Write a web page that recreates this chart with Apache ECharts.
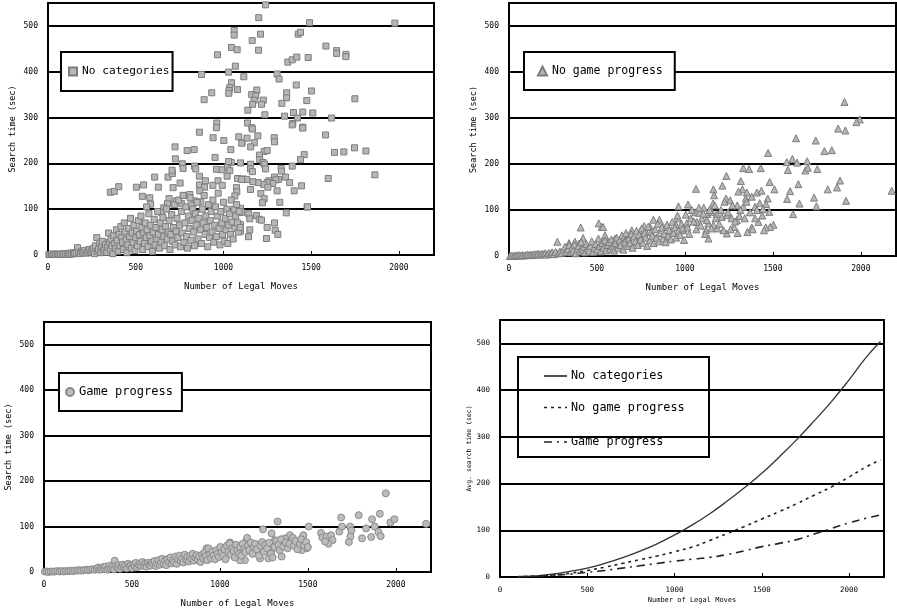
<!DOCTYPE html>
<html><head><meta charset="utf-8">
<script src="https://cdn.jsdelivr.net/npm/echarts@6/dist/echarts.min.js"></script>
<style>html,body{margin:0;padding:0;background:#fff}#c{width:897px;height:614px}</style>
</head><body><div id="c"></div>
<script>
// ---- data ----
const seriesNames = ['No categories', 'No game progress', 'Game progress'];
const xName = 'Number of Legal Moves';
const yNameScatter = 'Search time (sec)';
const yNameAvg = 'Avg. search time (sec)';

const noCategoriesPts = [
[1240,546],[1201,518],[1491,507],[1977,506],[1061,490],[1061,480],[1211,482],[1426,482],[1439,486],[1164,468],[1046,453],[1078,448],[1200,447],[966,437],[1584,456],[1645,446],[1645,440],[1698,438],[1698,433],[1483,431],[1367,421],[1392,426],[1418,432],[1068,412],[875,394],[1029,399],[1116,389],[1306,395],[1317,384],[1415,371],[1046,376],[1036,365],[1032,359],[1030,353],[1080,361],[933,354],[890,339],[1190,360],[1161,350],[1184,347],[1175,338],[1227,338],[1217,329],[1166,329],[1139,316],[1360,354],[1360,343],[1333,331],[1475,337],[1502,358],[1749,341],[1236,306],[1348,303],[1399,311],[1452,312],[1509,310],[1616,299],[1422,299],[962,288],[1137,288],[1162,278],[1395,287],[1452,279],
[1582,262],[1686,225],[1747,234],[1812,227],[1863,175],[1597,167],[1477,105],[1460,219],
[355,137],[378,139],[403,149],[504,148],[545,153],[629,148],[713,147],[753,157],[538,128],[580,125],[585,111],[562,105],[608,170],[684,170],[709,178],[707,185],[724,236],[793,228],[833,230],[863,268],[960,278],[941,256],[1002,250],[1042,230],[1087,258],[1106,245],[952,213],[726,210],[766,199],[770,189],[835,194],[842,188],[960,187],[993,186],[1023,192],[1036,184],[1044,202],[1029,204],[863,172],[897,162],[863,153],[892,148],[940,152],[969,162],[993,152],[1021,172],[1080,167],[1110,166],[1074,147],[1076,138],[1065,129],[772,130],[808,132],[836,118],[816,109],[871,116],[690,123],[732,118],[762,112],[681,112],[660,103],[647,93],
[1165,275],[1196,260],[1134,255],[1176,245],[1155,236],[1104,244],[1289,256],[1291,247],[1392,284],[1452,277],[1232,226],[1249,228],[1205,218],[1207,208],[1226,202],[1234,198],[1240,188],[1439,208],[1392,194],[1633,224],
[1097,201],[1154,198],[1154,188],[1165,182],[1329,189],[1331,183],[1354,170],[1314,165],[1377,158],[1291,170],[1299,164],[1259,162],[1281,156],[1249,158],[1230,154],[1198,158],[1167,160],[1133,165],[1103,165],[1253,148],[1306,140],[1403,140],[1445,151],[1154,143],[1213,134],[1232,123],[1222,114],[1321,115],[1358,92],[1479,105],
[1097,102],[1104,93],[1144,90],[1150,79],[1188,86],[1204,78],[1217,76],[1291,70],[1295,54],[1310,45],[1249,60],[1245,36],[1143,40],[1150,55],[1097,66],[1097,52],
[5,1],[12,1],[20,2],[28,1],[35,2],[45,1],[55,2],[62,1],[70,2],[80,1],[90,3],[100,2],[110,3],[118,1],[125,4],[135,2],[145,5],[150,3],[160,4],[168,16],[175,6],[185,3],[195,8],[200,5],[210,10],[220,4],[228,7],[235,12],[245,6],[250,9],[258,14],[265,3],[270,20],[278,38],[280,8],[288,12],[295,26],[300,5],[305,18],
[310,30],[315,9],[320,14],[328,22],[335,6],[340,17],[345,48],[350,28],[355,11],[360,35],[365,20],[370,3],[375,42],[380,25],[385,14],[390,55],[395,32],[400,8],[405,45],[410,20],[415,62],[420,38],[425,28],[430,12],[435,70],[440,50],[445,33],[450,5],[455,22],[460,58],[465,40],[470,80],[475,15],[480,48],[485,28],[490,65],[495,10],[500,38],[505,52],[510,20],[515,75],[520,44],[525,30],[530,85],[535,60],
[540,12],[545,48],[550,25],[555,70],[560,38],[565,55],[570,18],[575,90],[580,42],[585,65],[590,30],[595,8],[600,50],[605,78],[610,22],[615,60],[620,35],[625,95],[630,45],[635,15],[640,70],[645,28],[650,55],[655,82],[660,40],[665,20],[670,62],[675,100],[680,35],[685,50],[690,75],[695,12],[700,45],[705,88],[710,30],[715,60],[720,110],[725,22],[730,52],[735,80],[740,38],[745,120],[750,65],
[755,18],[760,95],[765,48],[770,130],[775,28],[780,70],[785,105],[790,40],[795,15],[800,85],[805,58],[810,125],[815,32],[820,75],[825,100],[830,50],[835,20],[840,90],[845,65],[850,115],[855,35],[860,80],[865,140],[870,55],[875,25],[880,100],[885,70],[890,130],[895,45],[900,85],[905,60],[910,18],[915,110],[920,38],[925,75],[930,95],[935,50],[940,120],[945,28],[950,65],[955,105],[960,40],[965,85],[970,135],[975,58],[980,22],[985,95],[990,70],[995,45],[1000,115],
[1005,30],[1010,80],[1015,55],[1020,100],[1025,25],[1030,65],[1035,90],[1040,45],[1045,120],[1050,72],[1055,35],[1060,100],[1065,58],[1070,85],[1075,110],[1080,70],[1085,50],[1090,95],[1095,60]
];

const noGameProgressPts = [
[1907,335],[1994,297],[1975,291],[1871,277],[1912,273],[1632,256],[1744,251],[1793,228],[1835,230],[1473,224],[1611,211],[1579,204],[1638,203],[1695,206],[1585,187],[1685,186],[1699,192],[1753,189],[1332,191],[1365,189],[1431,191],[1236,174],[1213,153],[1318,163],[1327,145],[1304,140],[1063,146],[1162,145],[1166,132],[1482,161],[1509,145],[1645,156],[1598,141],[1882,164],[1865,149],[1812,145],[2176,142],[1916,120],[1734,127],[1748,108],[1651,114],[1581,124],[1615,91],[1352,138],[1409,138],[1435,142],[1471,125],[1234,125],[1257,121],[1380,129],[1346,125],[1461,113],[1480,96],[1444,102],[1399,107],[1332,107],[1298,110],[1503,68],[1484,63],[1460,62],[1418,74],[1380,62],[1355,52],[1399,82],[963,108],[1018,112],[1107,105],[1160,114],
[1060,95],[1082,94],[1128,91],[1153,96],[1181,91],[1210,85],[1238,89],[1266,82],[1295,78],[1310,87],[1280,63],[1238,49],[1219,56],[1185,60],[1162,67],[1134,71],[1120,56],[1096,82],[1067,74],[1033,82],[1011,71],[991,56],[959,82],[950,67],[925,56],[897,41],[877,63],[855,79],[821,79],[802,63],[773,56],[749,41],[726,31],[698,56],[669,34],[635,38],[603,31],[574,20],[546,41],[527,63],[536,20],[1134,38],
[408,62],[510,71],[535,63],[421,39],[275,31],[341,28],[375,31],[398,27],[769,65],[749,56],[546,45],[603,38],[650,41],
[5,0],[15,1],[25,0],[35,1],[45,1],[55,2],[65,1],[75,2],[85,1],[95,2],[105,3],[115,2],[125,3],[135,2],[145,4],[155,3],[165,5],[175,3],[185,5],[195,4],[205,6],[215,3],[225,7],[235,5],[245,8],[255,4],[265,9],[280,6],[290,10],
[300,7],[310,14],[318,20],[325,9],[335,15],[342,24],[350,8],[358,18],[365,12],[372,25],[380,6],[388,16],[395,22],[402,10],[410,30],[418,14],[425,20],[432,8],[440,26],[448,16],[455,12],[462,22],[470,32],[478,9],[485,18],[492,26],[500,14],[508,38],[515,22],[522,10],[530,28],[538,18],[545,34],[552,12],[560,24],[568,30],[575,16],[582,36],[590,22],[598,12],
[605,28],[612,40],[620,18],[628,34],[635,24],[642,45],[650,14],[658,30],[665,50],[672,22],[680,38],[688,28],[695,48],[702,18],[710,42],[718,32],[725,55],[732,24],[740,46],[748,36],[755,60],[762,28],[770,50],[778,40],[785,22],[792,64],[800,34],[808,52],[815,44],[822,28],[830,58],[838,40],[845,70],[852,32],[860,50],[868,62],[875,38],[882,48],[890,30],[898,68],[905,44],[912,56],[920,36],[928,74],[935,50],[942,62],[950,40],[958,88],[965,55],[972,46],[980,70],[988,60],[995,35],
[1005,90],[1015,62],[1025,48],[1040,100],[1050,75],[1065,58],[1080,105],[1090,66],[1105,92],[1115,48],[1125,78],[1140,100],[1150,60],[1170,110],[1175,82],[1195,70],[1205,100],[1225,118],[1245,95],[1260,58],[1270,110],[1285,75],[1300,50],[1315,100],[1340,82],[1350,118],[1370,95],[1385,58],[1410,100],[1425,115],[1440,88],[1450,56]
];

const gameProgressPts = [
[1943,173],[1328,111],[1505,100],[1689,120],[1789,125],[1865,116],[1909,128],[1969,109],[1992,116],[2172,106],[1245,94],[1679,89],[1694,100],[1740,100],[1747,91],[1742,78],[1733,66],[1831,96],[1880,100],[1901,88],[1914,79],[1860,77],[1808,74],[1575,86],[1582,76],[1607,78],[1632,81],[1640,70],[1617,62],[1598,67],[1474,81],[1493,52],[1465,48],[1436,56],[1408,70],[1398,81],[1370,74],[1342,70],[1313,70],[1294,48],[1266,56],[1237,48],[1218,59],[1199,52],[1180,45],[1152,70],[1124,45],[1095,34],[1294,85],[1351,34],[1275,30],[1228,30],[1142,26],[1114,26],[924,52],[943,45],[1057,65],[1038,56],[1010,45],
[5,1],[15,1],[25,0],[38,1],[50,1],[62,1],[75,2],[88,1],[100,2],[112,1],[125,2],[138,2],[150,3],[162,2],[175,3],[188,3],[200,4],[212,3],[225,4],[238,5],[250,4],[262,5],[275,6],[288,5],[300,7],
[308,10],[315,5],[322,8],[330,6],[338,11],[345,7],[352,12],[360,5],[368,9],[375,14],[382,8],[390,11],[398,6],[402,25],[410,13],[418,9],[425,15],[432,7],[440,12],[448,16],[455,10],[462,14],[470,8],[478,18],[485,12],[492,15],[500,9],[508,17],[515,13],[522,20],[530,11],[538,16],[545,19],[552,13],[560,22],[568,15],[575,18],[582,12],[590,20],[598,16],
[605,14],[612,21],[620,18],[628,24],[635,13],[642,19],[650,26],[658,16],[665,22],[672,29],[680,18],[688,25],[695,15],[702,28],[710,21],[718,32],[725,19],[732,26],[740,22],[748,34],[755,18],[762,28],[770,36],[778,24],[785,30],[792,21],[800,38],[808,27],[815,33],[822,23],[830,35],[838,28],[845,40],[852,25],[860,32],[868,37],[875,27],[882,34],[890,22],[898,38],
[905,30],[912,42],[920,35],[928,26],[935,52],[942,38],[950,30],[958,45],[965,36],[972,28],[980,48],[988,40],[995,33],[1002,55],[1010,42],[1018,35],[1025,50],[1032,28],[1040,58],[1048,44],[1055,62],[1062,38],[1070,52],[1078,46],[1085,32],[1092,60],[1100,48],[1108,40],[1115,55],[1122,36],[1130,62],[1138,50],[1145,44],[1155,75],[1160,58],[1168,48],[1175,65],[1185,40],[1192,55],[1200,62],[1210,50],[1222,36],[1230,58],[1240,66],[1250,45],[1258,60],[1268,52],[1280,64],[1290,40],[1300,32],[1310,55],[1320,68],[1332,60],[1340,48],[1348,72],[1360,56],[1375,65],[1385,52],[1395,62],[1415,75],[1420,58],[1430,68],[1440,50],[1455,62],[1462,72],[1478,58],[1490,66],[1500,55]
];

const avgX = [100,200,300,400,500,600,700,800,900,1000,1100,1200,1300,1400,1500,1600,1700,1800,1900,2000,2100,2180];
const avgNoCategories = [0.5,2.5,6,12,19,29,41,55,71,90,111,135,162,191,222,257,294,334,376,422,471,504];
const avgNoGameProgress = [0.5,2,4,8,14,21,29,37,45,54,64,78,93,108,124,140,157,175,193,214,236,251];
const avgGameProgress = [0.3,1.5,3.5,6,10,14,19,24,29,34,38,42,48,56,65,72,80,92,104,116,126,133];

// ---- chart ----
const MONO = 'DejaVu Sans Mono';
const dashNoGP = [3,4];
const dashGP = [8,5,2,5];
const grids = [
  {left:48, top:3, width:386, height:252},
  {left:509, top:3, width:387, height:253},
  {left:44, top:322, width:387, height:250},
  {left:500, top:320, width:384, height:257}
];
const plain = v => String(v);
function xAx(i, fs, nfs, ng){
  return {gridIndex:i, type:'value', min:0, max:2200, interval:500,
    name:xName, nameLocation:'middle', nameGap:ng,
    nameTextStyle:{fontFamily:MONO, fontSize:nfs, color:'#000'},
    axisLine:{show:true, lineStyle:{color:'#000', width:2}},
    axisTick:{show:true, inside:true, length:4, lineStyle:{color:'#000', width:1}},
    axisLabel:{fontFamily:MONO, fontSize:fs, color:'#000', margin:9, showMaxLabel:false, formatter:plain},
    splitLine:{show:false}};
}
function yAx(i, name, fs, nfs, ng){
  return {gridIndex:i, type:'value', min:0, max:550, interval:100,
    name:name, nameLocation:'middle', nameGap:ng,
    nameTextStyle:{fontFamily:MONO, fontSize:nfs, color:'#000'},
    axisLine:{show:true, lineStyle:{color:'#000', width:2}},
    axisTick:{show:false},
    axisLabel:{fontFamily:MONO, fontSize:fs, color:'#000', margin:10, showMaxLabel:false, formatter:plain},
    splitLine:{show:true, lineStyle:{color:'#000', width:2}}};
}
const chart = echarts.init(document.getElementById('c'), null, {renderer:'canvas'});
const legendBase = {backgroundColor:'#fff', borderColor:'#000', borderWidth:2, borderRadius:0,
  textStyle:{fontFamily:MONO, fontSize:11.5, color:'#000'}, selectedMode:false};

// legend for the average-curve panel (line samples with dash patterns)
const lgX = 518, lgY = 357, lgRows = [376, 407.5, 442];
const lgDashes = [null, dashNoGP, dashGP];
const lgChildren = [{type:'rect', shape:{x:lgX, y:lgY, width:191, height:100}, style:{fill:'#fff', stroke:'#000', lineWidth:2}}];
seriesNames.forEach((n,i)=>{
  lgChildren.push({type:'line', shape:{x1:544, y1:lgRows[i], x2:567, y2:lgRows[i]},
    style:{stroke:'#222', lineWidth:1.6, lineDash:lgDashes[i]}});
  lgChildren.push({type:'text', x:571, y:lgRows[i], style:{text:n, fontFamily:MONO, fontSize:11.8, fill:'#000', verticalAlign:'middle', align:'left'}});
});

chart.setOption({
  animation:false,
  backgroundColor:'#fff',
  grid: grids.map(g => Object.assign({show:true, borderColor:'#000', borderWidth:2, backgroundColor:'transparent'}, g)),
  xAxis:[xAx(0,8,9,27), xAx(1,8,9,27), xAx(2,8,9,27), xAx(3,7.5,7,20)],
  yAxis:[yAx(0,yNameScatter,8,8.5,31), yAx(1,yNameScatter,8,8.5,31), yAx(2,yNameScatter,8,8.5,31), yAx(3,yNameAvg,7.5,6.5,22)],
  legend:[
    Object.assign({}, legendBase, {data:[seriesNames[0]], left:61, top:52, padding:[14,3,14,7], itemWidth:8, itemHeight:8, textStyle:{fontFamily:MONO, fontSize:11.2, color:'#000'}}),
    Object.assign({}, legendBase, {data:[seriesNames[1]], left:524, top:52, padding:[13,12,13,13], itemWidth:9, itemHeight:9}),
    Object.assign({}, legendBase, {data:[seriesNames[2]], left:59, top:373, padding:[13,9,13,6], itemWidth:8, itemHeight:8, textStyle:{fontFamily:MONO, fontSize:12, color:'#000'}})
  ],
  graphic:[{type:'group', children:lgChildren, z:100}],
  series:[
    {name:seriesNames[0], type:'scatter', xAxisIndex:0, yAxisIndex:0, data:noCategoriesPts, symbol:'rect', symbolSize:6,
      itemStyle:{color:'#b6b6b6', borderColor:'#7d7d7d', borderWidth:1, opacity:1}},
    {name:seriesNames[1], type:'scatter', xAxisIndex:1, yAxisIndex:1, data:noGameProgressPts, symbol:'triangle', symbolSize:7,
      itemStyle:{color:'#b6b6b6', borderColor:'#7d7d7d', borderWidth:1, opacity:1}},
    {name:seriesNames[2], type:'scatter', xAxisIndex:2, yAxisIndex:2, data:gameProgressPts, symbol:'circle', symbolSize:7,
      itemStyle:{color:'#bcbcbc', borderColor:'#8a8a8a', borderWidth:1, opacity:1}},
    {name:'avg ' + seriesNames[0], type:'line', xAxisIndex:3, yAxisIndex:3, data:avgX.map((x,i)=>[x,avgNoCategories[i]]), symbol:'none', smooth:true,
      lineStyle:{color:'#333', width:1.3, type:'solid'}},
    {name:'avg ' + seriesNames[1], type:'line', xAxisIndex:3, yAxisIndex:3, data:avgX.map((x,i)=>[x,avgNoGameProgress[i]]), symbol:'none', smooth:true,
      lineStyle:{color:'#222', width:1.6, type:dashNoGP}},
    {name:'avg ' + seriesNames[2], type:'line', xAxisIndex:3, yAxisIndex:3, data:avgX.map((x,i)=>[x,avgGameProgress[i]]), symbol:'none', smooth:true,
      lineStyle:{color:'#222', width:1.6, type:dashGP}}
  ]
});
</script></body></html>
